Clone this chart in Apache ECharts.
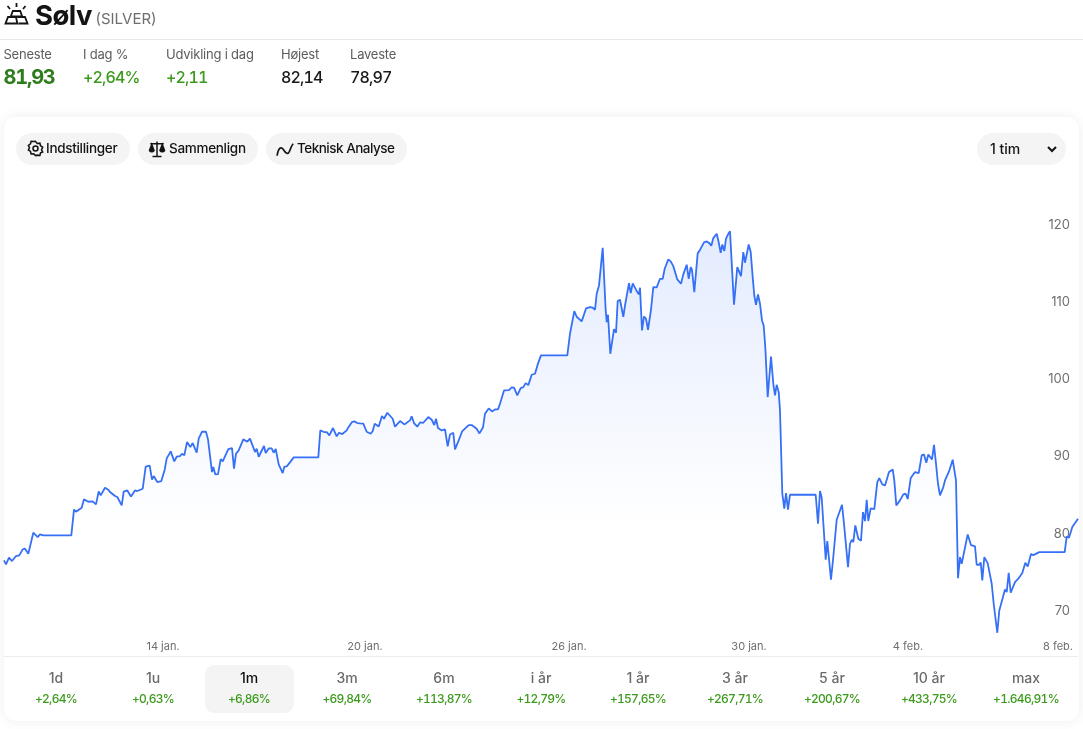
<!DOCTYPE html>
<html lang="da">
<head>
<meta charset="utf-8">
<title>Sølv (SILVER)</title>
<script src="https://cdn.jsdelivr.net/npm/echarts@6/dist/echarts.min.js"></script>
<style>
  html, body { margin: 0; padding: 0; background: #fff; }
  body { width: 1083px; height: 729px; position: relative; overflow: hidden; font-family: Inter, "Noto Sans", sans-serif; color: #141414; }
  .abs { position: absolute; white-space: nowrap; }
  #card { position: absolute; left: 4px; top: 117px; width: 1074.5px; height: 604px; background: #fff; border-radius: 12px; box-shadow: 0 0 14px rgba(0,0,0,.07); }
  #chart { position: absolute; left: 0; top: 0; width: 1083px; height: 729px; }
  #rule-top { position: absolute; left: 0; top: 39px; width: 1083px; height: 1px; background: #e8e8e8; }
  #rule-tabs { position: absolute; left: 4px; top: 656px; width: 1074px; height: 1px; background: #ececec; }
  .stat-label { font-size: 13px; letter-spacing: -.22px; color: #5c5c5c; line-height: 16px; top: 46px; }
  .stat-value { font-size: 16px; font-weight: 500; line-height: 20px; top: 67px; font-variant-numeric: tabular-nums; letter-spacing: -.85px; }
  .pill { position: absolute; top: 133px; height: 32px; border-radius: 16px; background: #f4f4f4; font-size: 13.5px; letter-spacing: -.3px; font-weight: 500; line-height: 31px; }
  .pill svg { position: absolute; top: 7px; }
  .pill span { position: absolute; }
  .tab { position: absolute; top: 665px; width: 89px; height: 48px; text-align: center; border-radius: 9px; }
  .tab.on { background: #f4f4f4; }
  .tab b { display: block; font-size: 14px; font-weight: 500; line-height: 16px; margin-top: 5px; color: #6b6b6b; }
  .tab.on b { color: #111; }
  .tab i { display: block; font-style: normal; font-size: 12px; font-weight: 500; line-height: 15px; margin-top: 5px; color: #3c9a1c; font-variant-numeric: tabular-nums; letter-spacing: -.7px; }
</style>
</head>
<body>
<div id="card"></div>
<div id="chart"></div>

<svg class="abs" style="left:4px;top:2px" width="25" height="24" viewBox="0 0 25 24" fill="none" stroke="#141414" stroke-width="1.8">
  <path d="M12.5 1v4M3.5 4l2.5 3M21.5 4l-2.500 3"/>
  <path d="M8.800 9h7.400l2 5.500H6.800z"/>
  <path d="M4 15h8l1.300 6.500H1.500zM13.300 15h7.700l2.500 6.500H14.500"/>
</svg>
<div class="abs" style="left:35px;top:-2px;font-size:27.500px;font-weight:700;line-height:34px;letter-spacing:-.5px">Sølv</div>
<div class="abs" style="left:95.500px;top:10px;font-size:15px;line-height:18px;color:#6e6e6e">(SILVER)</div>
<div id="rule-top"></div>
<div id="stats"></div>

<div class="pill" style="left:16px;width:114px">
  <svg style="left:11px" width="17" height="17" viewBox="0 0 24 24" fill="none" stroke="#141414" stroke-width="2.200"><circle cx="12" cy="12" r="3.500"/><path d="M12 2l2.500 2.800 3.700-.4.900 3.600 3 2.200-1.600 3.400 1.600 3.400-3 1.200-.9 3.600-3.700-.4L12 22l-2.500-2.600-3.700.4-.9-3.600-3-2.200 1.600-3-1.600-3.400 3-2.200.9-3.600 3.700.4z"/></svg>
  <span style="left:30px">Indstillinger</span>
</div>
<div class="pill" style="left:138px;width:120px">
  <svg style="left:10px" width="18" height="18" viewBox="0 0 24 24" fill="#141414" stroke="#141414" stroke-width="2"><path d="M12 2v19M6 22h12M3 5h18" fill="none"/><path d="M5 6l-3 8a3.500 3.500 0 0 0 6 0z"/><path d="M19 6l-3 8a3.500 3.500 0 0 0 6 0z"/></svg>
  <span style="left:31px">Sammenlign</span>
</div>
<div class="pill" style="left:266px;width:141px">
  <svg style="left:10px" width="18" height="18" viewBox="0 0 24 24" fill="none" stroke="#141414" stroke-width="2.200"><path d="M1.500 21C3 10 7 8 10 13s6 7 8 2 3-8 5-10"/></svg>
  <span style="left:31px;letter-spacing:-.5px">Teknisk Analyse</span>
</div>
<div class="pill" style="left:977px;width:89px">
  <span style="left:13px;font-size:14px;letter-spacing:0">1 tim</span>
  <svg style="left:69px;top:10px" width="12" height="12" viewBox="0 0 12 12" fill="none" stroke="#141414" stroke-width="2"><path d="M2 4l4 4 4-4"/></svg>
</div>

<div id="rule-tabs"></div>
<div id="tabs"></div>

<script>
// Header figures
const statLabels = ["Seneste", "I dag %", "Udvikling i dag", "Højest", "Laveste"];
const statValues = ["81,93", "+2,64%", "+2,11", "82,14", "78,97"];

// Period selector below the chart
const periodLabels = ["1d", "1u", "1m", "3m", "6m", "i år", "1 år", "3 år", "5 år", "10 år", "max"];
const periodChanges = ["+2,64%", "+0,63%", "+6,86%", "+69,84%", "+113,87%", "+12,79%", "+157,65%", "+267,71%", "+200,67%", "+433,75%", "+1.646,91%"];
const activePeriod = "1m";

// Price axis
const priceTicks = [70, 80, 90, 100, 110, 120];

// Date axis: hour of the month view at which each date label sits
const dateTickHours = [159, 361, 565, 745, 904, 1054];
const dateTickLabels = ["14 jan.", "20 jan.", "26 jan.", "30 jan.", "4 feb.", "8 feb."];

// Hour of the month view for each price below
const sessionHours = [
  0, 2, 5, 8, 12, 15.3, 18.7, 21, 24.3, 29.3, 31.3, 33.7,
  36, 39.3, 67.3, 70, 72, 73.3, 77.7, 80, 82, 84.3, 88.7, 92,
  94.7, 96.7, 101, 104.3, 106, 111, 113.3, 117.7, 119.7, 123.3, 127, 131,
  133.3, 138.7, 141.7, 145.7, 148, 149.7, 151.7, 153.3, 157.3, 160.7, 162.7, 164.7,
  166.7, 168.3, 170.3, 172.7, 176, 178, 180.3, 183, 184.7, 186.3, 188.7, 192.7,
  194.7, 198, 202, 204, 206, 208, 209.3, 211.3, 214, 216.7, 218.7, 224.3,
  226, 228, 230, 232, 234.7, 239.3, 241, 243.3, 246, 247.7, 251, 252.7,
  254.7, 256.7, 260, 261.7, 264.7, 267.7, 269.7, 271.7, 274.7, 276.7, 278.7, 280.3,
  282.7, 286, 287.7, 289.7, 314.3, 316.3, 318, 320, 322.7, 325.3, 329, 332.7,
  335, 338.3, 342.7, 344.3, 346, 348, 350.3, 353.3, 356, 359.3, 362.7, 366.7,
  368.7, 370.7, 372.7, 374.7, 378, 380, 383.3, 385.3, 388.7, 391, 396, 400.3,
  406, 407.7, 410, 413.3, 416, 419.3, 424.3, 427.7, 430.3, 432, 434, 437.7,
  441, 443.7, 446, 449.3, 451, 454.3, 458.3, 460, 464.7, 467.7, 472.7, 475.3,
  479, 481, 484.7, 488, 491, 494, 496, 498, 500, 502, 505, 507.7,
  510, 513.3, 516.7, 519.3, 521.7, 524.3, 527.7, 531, 533.7, 537, 563.3, 566,
  570.3, 572.7, 577.7, 582, 583.7, 586, 588.7, 591, 592.7, 595, 598.7, 601.7,
  602.7, 604, 606.3, 608, 610, 612, 613.7, 616, 619.3, 621.3, 623.3, 625,
  626.7, 628.7, 630.7, 633.3, 635, 636, 638, 640, 642, 644, 647, 649.3,
  652.7, 656, 657.3, 658.7, 660.7, 662, 664.3, 666.7, 669.3, 673.3, 675.3, 677,
  679.3, 682.7, 684.7, 686.7, 688, 690.3, 693.7, 695.3, 697.3, 700, 702.7, 705.3,
  707.3, 709.3, 711, 712.7, 714.3, 716.7, 718.3, 720.3, 722, 724.3, 726, 728,
  730, 733.3, 735, 737, 739.3, 741, 742.7, 744.7, 746.7, 748.7, 750.3, 752,
  754, 756, 758, 759.7, 761.3, 763.7, 767, 769.3, 771, 772.7, 774.7, 776,
  778.3, 780.3, 782, 784, 786, 811.7, 814, 816, 817.7, 821.7, 823.3, 827,
  829.3, 832.7, 834.3, 838, 840, 844, 846, 847.7, 849.3, 851.3, 854.3, 857,
  859, 861, 862.7, 864.3, 866.7, 870.3, 873.3, 875.3, 878.3, 881, 885, 888.7,
  890.3, 892.3, 896, 899.3, 901.7, 903.7, 906.7, 908.3, 911, 912.7, 914.7, 917.7,
  920, 922.3, 924.3, 926.3, 928, 930, 932, 934, 936, 937.3, 939.3, 941,
  945, 946.7, 948.7, 950.3, 952, 954, 956, 957.7, 963.7, 965.3, 967, 971,
  972.7, 975.3, 976.7, 978.3, 980.3, 983.7, 987.7, 989.7, 991.7, 993.3, 995.3, 1001,
  1002.7, 1004.7, 1006.7, 1008.3, 1011, 1014.3, 1018.3, 1021.3, 1023.7, 1027, 1029.3, 1035.3,
  1060.7, 1062.7, 1065, 1068.3, 1070.3, 1074
];

// Silver price in USD per ounce
const silverPrices = [
  76.54, 76.03, 76.89, 76.46, 77.11, 77.19, 77.97, 78.06, 77.41, 80.13, 80.34, 79.57,
  79.91, 79.78, 79.78, 83.11, 82.85, 83.06, 83.37, 84.45, 84.49, 84.14, 84.19, 83.8,
  85.48, 84.96, 85.96, 85.7, 85.4, 84.88, 84.75, 83.67, 85.44, 85.61, 84.83, 85.61,
  85.53, 85.83, 88.68, 88.81, 87, 87.47, 87.43, 86.69, 86.82, 88.29, 89.76, 89.67,
  90.66, 90.62, 89.37, 89.97, 90.06, 90.36, 90.15, 91.87, 91.79, 91.22, 91.74, 90.49,
  92.31, 93.21, 93.21, 92.22, 92.18, 87.99, 88.63, 87.68, 87.73, 89.67, 89.37, 90.97,
  91.14, 91.1, 88.42, 90.36, 90.79, 92.22, 92.43, 91.92, 92.31, 92.26, 90.58, 91.01,
  89.97, 90.19, 91.36, 90.45, 91.05, 91.05, 90.49, 90.97, 88.98, 89.07, 87.86, 88.68,
  88.72, 89.24, 89.28, 89.89, 89.89, 93.38, 93.51, 93.17, 93.17, 92.74, 93.69, 92.61,
  93.08, 92.91, 93.38, 93.77, 93.82, 94.46, 94.55, 94.33, 94.29, 94.25, 93.21, 92.95,
  93.3, 94.25, 94.33, 93.9, 95.24, 94.89, 95.67, 95.63, 94.89, 93.86, 94.59, 94.16,
  94.68, 95.2, 94.33, 93.86, 94.42, 94.37, 95.11, 94.76, 94.08, 94.89, 93.68, 93.38,
  93.51, 91.31, 92.86, 93.08, 90.92, 91.96, 93.3, 93.25, 94.07, 94.07, 93.6, 92.99,
  93.77, 95.54, 96.23, 95.84, 96.1, 96.1, 96.84, 97.05, 98.56, 98.65, 98.61, 98.95,
  98.91, 97.92, 98.87, 98.99, 99.51, 99.25, 100.59, 100.72, 101.93, 103.1, 103.1, 105.9,
  108.84, 108.1, 107.5, 109.18, 108.97, 109.35, 109.27, 109.01, 111.08, 112.16, 117.04, 108.92,
  107.41, 108.36, 103.31, 103.31, 106.5, 106.03, 110.13, 110.3, 108.1, 109.79, 109.87, 112.46,
  111.17, 112.42, 112.33, 111.3, 110.99, 111.86, 106.33, 108.14, 107.84, 106.42, 109.01, 111.94,
  111.9, 113.02, 113.24, 113.02, 114.32, 114.45, 115.53, 115.27, 114.66, 112.94, 112.81, 112.38,
  113.59, 114.84, 113.02, 114.54, 114.19, 111.3, 116.35, 116.61, 116.69, 117.73, 117.86, 117.64,
  117.3, 118.29, 118.21, 118.85, 117.99, 116.39, 117.47, 116.61, 118.21, 118.85, 119.16, 119.16,
  109.66, 114.54, 114.54, 113.37, 116.48, 115.1, 115.1, 117.47, 116.48, 113.24, 110.86, 109.66,
  110.99, 109.79, 107.63, 106.94, 104.17, 97.7, 102.96, 99.42, 97.91, 99.29, 98.34, 95.97,
  85.18, 83.24, 85.27, 83.11, 85.05, 85.05, 81.29, 85.53, 84.66, 76.63, 79.05, 74.04,
  76.98, 81.81, 81.81, 83.75, 81.29, 75.68, 78.7, 79.22, 78.92, 81.08, 79.35, 79.09,
  82.8, 81.64, 84.4, 81.64, 83.28, 83.19, 86.69, 87.21, 86.39, 86.26, 87.99, 88.33,
  86.91, 83.67, 84.32, 85.09, 85.18, 84.49, 87.21, 86.99, 87.99, 88.2, 87.86, 90.14,
  90.27, 89.19, 90.27, 90.49, 89.62, 91.52, 89.06, 86.47, 84.96, 84.74, 86.04, 86.9,
  88.07, 88.11, 89.58, 89.58, 86.9, 74.25, 76.97, 76.11, 79.91, 79.78, 78.53, 78.35,
  75.98, 75.98, 76.28, 73.95, 76.97, 76.19, 73.52, 70.93, 70.84, 67.17, 70.06, 72.78,
  72.44, 74.94, 72.35, 72.22, 73.73, 74.17, 74.9, 76.24, 75.76, 77.36, 77.23, 77.62,
  77.62, 79.65, 79.48, 80.86, 80.99, 81.93
];

// Header statistics
const statLefts = [3.5, 83, 166, 281, 350];
const statColors = ["#2e7d1c", "#3c9a1c", "#3c9a1c", "#1a1a1a", "#1a1a1a"];
document.getElementById("stats").innerHTML = statLabels.map((label, i) =>
  `<div class="abs stat-label" style="left:${statLefts[i]}px">${label}</div>` +
  `<div class="abs stat-value" style="left:${statLefts[i]}px;color:${statColors[i]};${i === 0 ? "font-size:20px;font-weight:700;letter-spacing:-1.2px;" : ""}">${statValues[i]}</div>`
).join("");

// Period tabs
document.getElementById("tabs").innerHTML = periodLabels.map((label, i) =>
  `<div class="tab${label === activePeriod ? " on" : ""}" style="left:${10.5 + i * 97 + (label === activePeriod ? 0 : 1)}px"><b>${label}</b><i>${periodChanges[i]}</i></div>`
).join("");

const chart = echarts.init(document.getElementById("chart"));
chart.setOption({
  animation: false,
  backgroundColor: "transparent",
  grid: { left: 4, right: 5, top: 186.3, height: 455.5, containLabel: false },
  xAxis: {
    type: "value",
    min: 0,
    max: 1074,
    axisLine: { show: false },
    axisTick: { show: false },
    splitLine: { show: false },
    axisLabel: {
      customValues: dateTickHours,
      formatter: (value) => dateTickLabels[dateTickHours.indexOf(value)] || "",
      color: "#6f6f6f",
      fontFamily: "Inter",
      fontSize: 11,
      margin: 5,
      verticalAlign: "middle",
      hideOverlap: false
    }
  },
  yAxis: {
    type: "value",
    position: "right",
    min: 66,
    max: 125,
    axisLine: { show: false },
    axisTick: { show: false },
    splitLine: { show: false },
    axisLabel: {
      inside: true,
      customValues: priceTicks,
      color: "#6f6f6f",
      fontFamily: "Inter",
      fontSize: 13,
      margin: 8
    }
  },
  series: [{
    type: "line",
    data: sessionHours.map((hour, i) => [hour, silverPrices[i]]),
    symbol: "none",
    smooth: false,
    silent: true,
    lineStyle: { color: "#3670f6", width: 1.8 },
    areaStyle: {
      origin: "start",
      color: new echarts.graphic.LinearGradient(0, 0, 0, 1, [
        { offset: 0, color: "rgba(54,112,246,0.2)" },
        { offset: 0.72, color: "rgba(54,112,246,0)" },
        { offset: 1, color: "rgba(54,112,246,0)" }
      ])
    }
  }]
});
</script>
</body>
</html>
